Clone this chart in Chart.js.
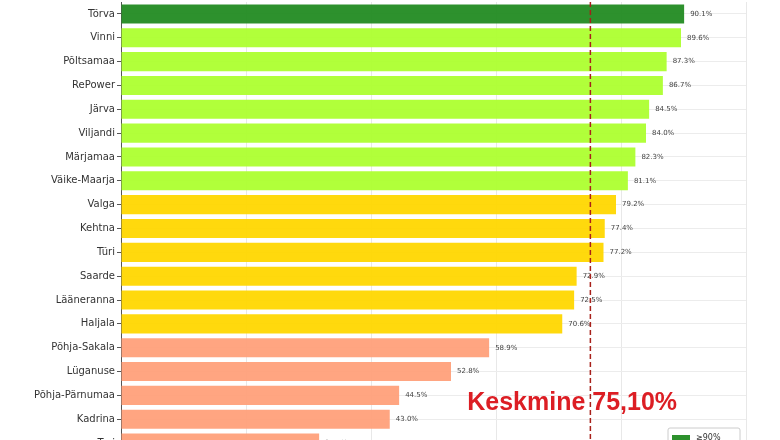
<!DOCTYPE html>
<html>
<head>
<meta charset="utf-8">
<script src="https://cdn.jsdelivr.net/npm/chart.js@4.4.1/dist/chart.umd.min.js"></script>
<style>
    html, body { margin: 0; padding: 0; background: #fff; overflow: hidden; }
    #wrap { position: absolute; left: 0; top: -6px; width: 780px; height: 469px; }
</style>
</head>
<body>
<div id="wrap"><canvas id="chart"></canvas></div>
<script>
// Datos
const municipalities = ['Törva', 'Vinni', 'Põltsamaa', 'RePower', 'Järva', 'Viljandi', 'Märjamaa',
    'Väike-Maarja', 'Valga', 'Kehtna', 'Türi', 'Saarde', 'Lääneranna', 'Haljala', 'Põhja-Sakala',
    'Lüganuse', 'Põhja-Pärnumaa', 'Kadrina', 'Tori'];
const shares = [90.1, 89.6, 87.3, 86.7, 84.5, 84.0, 82.3, 81.1, 79.2, 77.4, 77.2, 72.9, 72.5, 70.6,
    58.9, 52.8, 44.5, 43.0, 31.7];
const meanShare = 75.1;
const meanLabel = 'Keskmine 75,10%';
const xTicks = [0, 20, 40, 60, 80, 100];
const legendLabels = ['≥90%', '80–90%', '70–80%', '<70%'];
const bandColors = ['rgba(34,139,34,0.95)', 'rgba(173,255,47,0.95)', 'rgba(255,215,0,0.95)', 'rgba(255,160,122,0.95)'];

function bandOf(v) {
    if (v >= 90) return 0;
    if (v >= 80) return 1;
    if (v >= 70) return 2;
    return 3;
}

// Etiquetas, línea media y leyenda
const extras = {
    id: 'extras',
    afterDatasetsDraw(chart) {
        const ctx = chart.ctx;
        const x = chart.scales.x;
        const y = chart.scales.y;
        const area = chart.chartArea;
        const shift = 6; // el contenedor empieza 6px por encima de la ventana

        ctx.save();
        ctx.font = '7px "DejaVu Sans"';
        ctx.fillStyle = '#444';
        ctx.textBaseline = 'middle';
        ctx.textAlign = 'left';
        shares.forEach((v, i) => {
            ctx.fillText(v.toFixed(1) + '%', x.getPixelForValue(v) + 6, y.getPixelForValue(i));
        });

        const mx = x.getPixelForValue(meanShare);
        ctx.strokeStyle = '#a8201a';
        ctx.lineWidth = 1.5;
        ctx.setLineDash([5, 3]);
        ctx.beginPath();
        ctx.moveTo(mx, 0);
        ctx.lineTo(mx, area.bottom);
        ctx.stroke();
        ctx.setLineDash([]);

        ctx.font = 'bold 25px "Liberation Sans"';
        ctx.fillStyle = '#dc1e24';
        ctx.textBaseline = 'alphabetic';
        ctx.fillText(meanLabel, x.getPixelForValue(55.4), 410 + shift);

        // Leyenda
        const lx = 668, ly = 428 + shift, lw = 72, rowH = 14;
        ctx.fillStyle = 'rgba(255,255,255,0.9)';
        ctx.strokeStyle = '#ccc';
        ctx.lineWidth = 1;
        ctx.beginPath();
        ctx.roundRect(lx, ly, lw, rowH * legendLabels.length + 8, 2);
        ctx.fill();
        ctx.stroke();
        ctx.font = '8px "DejaVu Sans"';
        ctx.textBaseline = 'middle';
        legendLabels.forEach((lab, i) => {
            const ry = ly + 7 + i * rowH;
            ctx.fillStyle = bandColors[i];
            ctx.fillRect(lx + 4, ry, 18, 8);
            ctx.fillStyle = '#333';
            ctx.fillText(lab, lx + 28, ry + 3);
        });
        ctx.restore();
    }
};

new Chart(document.getElementById('chart'), {
    type: 'bar',
    data: {
        labels: municipalities,
        datasets: [{
            data: shares,
            backgroundColor: shares.map(v => bandColors[bandOf(v)]),
            borderWidth: 0,
            barPercentage: 0.8,
            categoryPercentage: 1.0
        }]
    },
    options: {
        indexAxis: 'y',
        responsive: true,
        maintainAspectRatio: false,
        animation: false,
        layout: { padding: { top: 1, right: 34, bottom: 0, left: 0 } },
        plugins: {
            legend: { display: false },
            tooltip: { enabled: false }
        },
        scales: {
            x: {
                min: 0,
                max: 100,
                afterBuildTicks: scale => { scale.ticks = xTicks.map(v => ({ value: v })); },
                ticks: { display: false },
                grid: { color: '#e8e8e8', lineWidth: 1, drawTicks: false },
                border: { display: false },
                afterFit: scale => { scale.height = 0; }
            },
            y: {
                afterFit: scale => { scale.width = 121; },
                ticks: {
                    color: '#333',
                    font: { family: 'DejaVu Sans', size: 10 },
                    padding: 2
                },
                grid: {
                    offset: false,
                    color: '#ececec',
                    tickColor: '#555',
                    tickLength: 4,
                    drawOnChartArea: true
                },
                border: { display: true, color: '#555', width: 1 }
            }
        }
    },
    plugins: [extras]
});
</script>
</body>
</html>
